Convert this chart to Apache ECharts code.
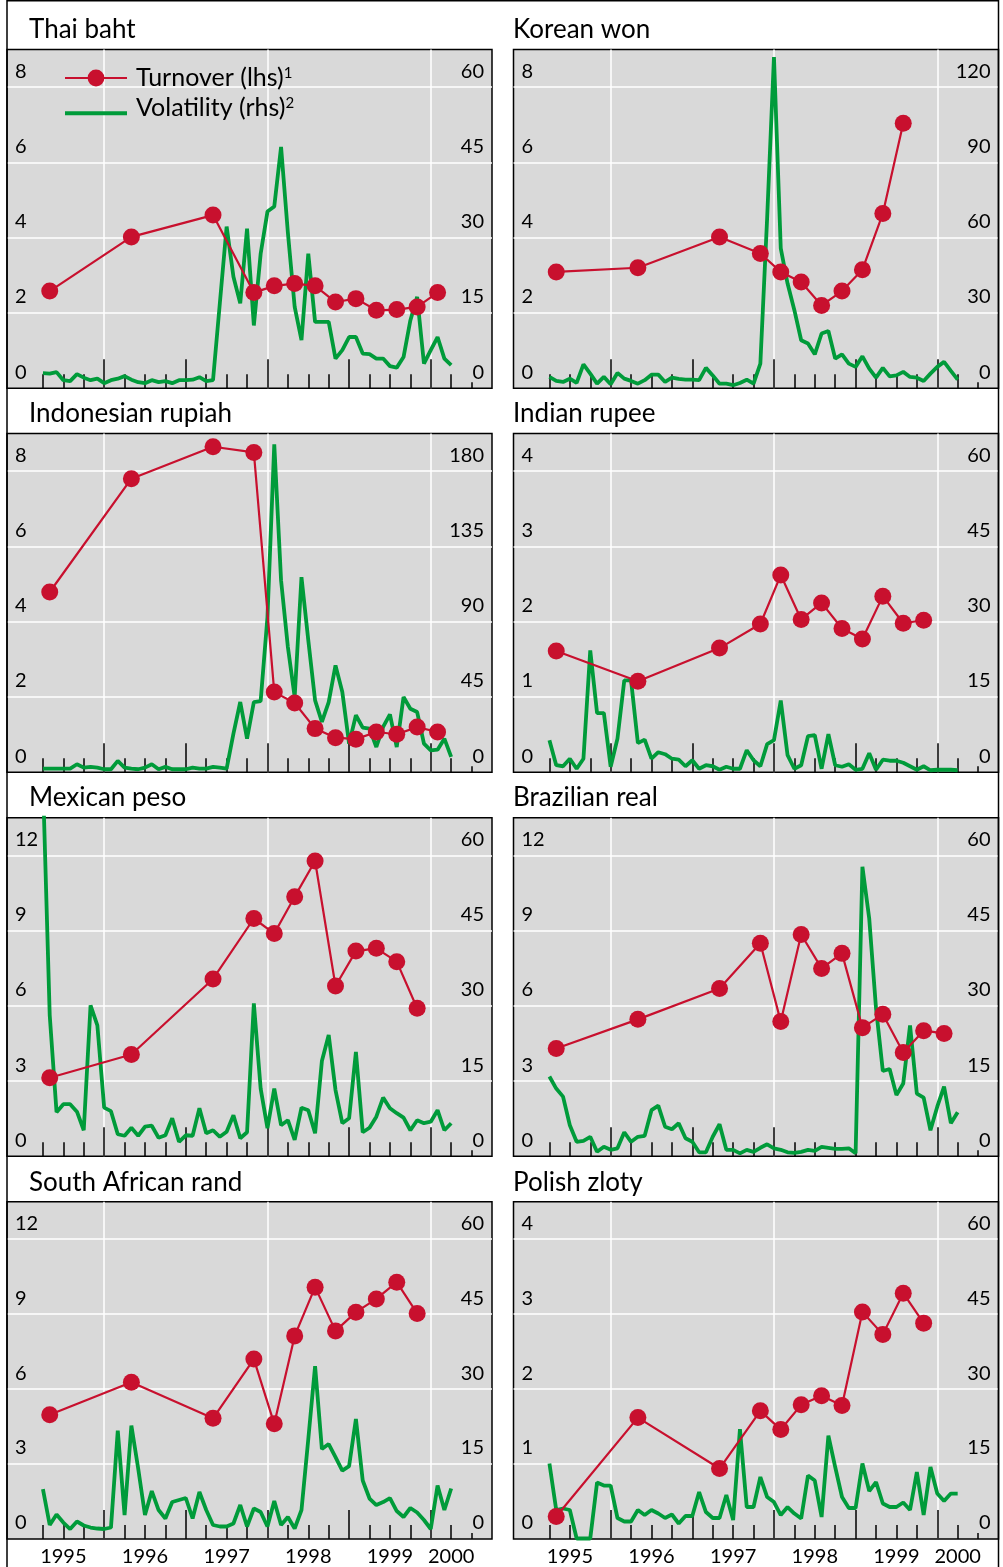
<!DOCTYPE html>
<html><head><meta charset="utf-8">
<script src="https://cdn.jsdelivr.net/npm/echarts@6/dist/echarts.min.js"></script>
<style>html,body{margin:0;padding:0;background:#fff}#c{width:1003px;height:1567px}</style>
</head><body><div id="c"></div><script>
// ---------- data ----------
const panelTitles = ['Thai baht','Korean won','Indonesian rupiah','Indian rupee','Mexican peso','Brazilian real','South African rand','Polish zloty'];
const lhsTop  = [8, 8, 8, 4, 12, 12, 12, 4];
const lhsStep = [2, 2, 2, 1, 3, 3, 3, 1];
const rhsTop  = [60, 120, 180, 60, 60, 60, 60, 60];
const rhsStep = [15, 30, 45, 15, 15, 15, 15, 15];

const seriesNames = ['Turnover (lhs)', 'Volatility (rhs)'];
const seriesNotes = ['1', '2'];

const volStart = '1995-04'; // monthly volatility series start
const turnoverDates = ['1995-05','1996-05','1997-05','1997-11','1998-02','1998-05','1998-08','1998-11','1999-02','1999-05','1999-08','1999-11','2000-02'];

const thaiTO  = [2.58,4.02,4.60,2.54,2.72,2.78,2.72,2.29,2.38,2.07,2.09,2.16,2.54];
const koreaTO = [3.09,3.20,4.02,3.58,3.09,2.82,2.20,2.58,3.15,4.64,7.04];
const indoTO  = [4.79,7.80,8.65,8.50,2.13,1.84,1.16,0.92,0.88,1.07,1.01,1.20,1.07];
const indiaTO = [1.61,1.21,1.65,1.97,2.62,2.03,2.25,1.91,1.77,2.34,1.98,2.02];
const mexTO   = [3.13,4.06,7.07,9.48,8.88,10.35,11.77,6.79,8.18,8.29,7.76,5.90];
const brTO    = [4.30,5.46,6.69,8.49,5.37,8.84,7.49,8.09,5.13,5.66,4.14,5.01,4.90];
const saTO    = [4.97,6.27,4.83,7.20,4.61,8.13,10.08,8.33,9.08,9.61,10.28,9.03];
const plTO    = [0.30,1.62,0.94,1.71,1.46,1.79,1.91,1.78,3.03,2.73,3.28,2.88];

const thaiVol  = [3.0,2.9,3.2,1.6,1.4,2.8,2.1,1.6,1.9,1.0, 1.6,1.9,2.4,1.7,1.2,1.0,1.6,1.2,1.4,1.0, 1.6,1.6,1.7,2.2,1.4,1.6,16.9,32.2,22.2,16.9, 31.8,12.5,26.8,35.2,36.2,48.1,31.0,16.2,9.6,26.8, 13.2,13.2,13.2,5.9,7.6,10.2,10.2,6.9,6.8,5.9, 5.9,4.4,4.1,6.2,13.5,18.2,4.9,7.6,10.2,5.9, 4.6];
const koreaVol = [4.5,2.9,2.5,3.8,2.1,9.5,5.8,1.8,4.5,1.6, 6.1,3.8,2.9,1.8,3.2,5.4,5.4,2.5,4.2,3.7, 3.4,3.4,3.2,8.1,5.1,1.8,1.8,1.2,2.1,3.4, 1.8,9.8,68.0,132.0,55.7,41.7,31.1,19.1,17.8,13.5, 21.8,22.8,11.8,13.5,9.8,8.5,12.7,7.8,4.2,8.1, 4.7,5.1,6.5,4.5,4.2,2.9,5.8,8.5,10.5,6.9, 3.4];
const indoVol  = [2.2,2.2,2.2,2.2,2.2,4.8,2.8,3.2,2.8,1.8, 1.8,6.8,2.8,2.2,1.8,2.8,4.8,1.8,3.2,1.8, 1.8,1.8,2.8,2.2,2.2,3.2,2.8,2.2,23.1,42.0, 20.1,42.0,42.6,92.8,196.0,114.7,74.9,45.0,116.7,78.9, 43.0,30.1,42.0,63.9,48.0,17.1,34.1,26.7,26.1,15.1, 27.1,34.6,15.1,45.0,38.0,36.0,17.1,13.1,13.5,20.1, 9.2];
const indiaVol = [6.4,1.4,1.2,2.7,0.7,2.7,24.3,11.8,11.8,1.1, 6.7,18.3,18.3,5.8,6.5,2.7,4.0,3.6,2.7,2.5, 1.2,2.4,0.7,1.4,1.2,0.5,1.1,0.7,0.7,4.4, 2.4,1.2,5.6,6.4,14.3,3.4,0.7,1.4,7.2,7.4, 0.7,7.6,1.4,1.1,1.6,0.5,0.7,3.8,0.5,2.5, 2.3,2.3,1.9,1.2,0.5,1.2,0.4,0.5,0.5,0.5, 0.4];
const mexVol   = [75.0,28.1,8.8,10.4,10.4,8.9,5.2,30.1,26.1,9.7, 9.0,4.4,4.1,5.7,4.1,5.9,6.1,3.7,4.2,7.6, 2.9,4.2,4.1,9.6,4.6,5.2,3.9,4.9,8.2,3.6, 4.8,30.5,13.5,5.6,13.5,6.2,7.2,3.3,9.7,9.2, 4.6,19.0,24.2,13.2,6.6,7.6,20.8,4.8,5.7,7.9, 11.7,9.6,8.6,7.7,5.2,7.2,6.6,6.9,9.2,5.2, 6.6];
const brVol    = [15.9,13.5,11.9,6.2,2.9,3.1,3.9,0.9,1.9,1.3, 1.6,4.8,2.9,3.9,4.1,9.2,10.1,5.9,5.4,6.6, 3.6,2.9,0.8,0.8,3.9,6.4,1.3,1.3,0.6,1.3, 0.9,1.7,2.4,1.6,1.3,0.8,0.7,0.9,1.3,1.1, 1.9,1.7,1.5,1.5,1.6,0.6,57.7,47.4,29.5,17.0, 17.4,12.2,14.5,26.1,12.5,11.7,5.2,9.9,13.9,6.6, 8.8];
const saVol    = [10.0,2.8,4.9,3.3,2.0,3.5,2.7,2.3,2.1,2.0, 2.3,21.7,4.8,22.7,14.1,4.8,9.6,5.8,4.1,7.4, 7.8,8.2,4.1,9.4,5.8,2.8,2.5,2.5,3.1,6.8, 2.5,6.1,5.4,2.5,7.6,2.8,4.4,2.1,5.8,20.0, 34.6,18.0,19.0,16.4,13.7,14.6,24.0,11.7,8.1,6.8, 7.4,8.2,5.6,4.4,6.2,5.3,3.8,2.0,10.7,5.8, 10.1];
const plVol    = [15.1,5.8,6.1,5.8,0.1,0.1,0.1,11.3,10.7,10.7, 4.2,3.5,3.5,5.8,4.8,5.8,5.1,4.2,4.9,3.1, 4.6,4.6,9.4,5.4,4.2,4.2,8.8,3.8,22.0,6.4, 6.4,12.4,8.4,7.4,4.8,6.4,5.1,4.1,12.7,11.7, 4.4,20.7,14.4,8.4,6.2,6.2,15.1,9.6,11.4,7.1, 6.4,6.4,7.3,5.8,13.4,4.8,14.4,9.1,7.6,9.1, 9.1];

const turnoverSets = [thaiTO, koreaTO, indoTO, indiaTO, mexTO, brTO, saTO, plTO];
const volSets = [thaiVol, koreaVol, indoVol, indiaVol, mexVol, brVol, saVol, plVol];

// x axis: years
const xMin = 1994.81, xMax = 2000.75;
const gridYears = [1996, 1998, 2000];
const yearTicks = [1996, 1997, 1998, 1999, 2000];
const quarterTicks = [1995.25,1995.5,1995.75,1996.25,1996.5,1996.75,1997.25,1997.5,1997.75,1998.25,1998.5,1998.75,1999.25,1999.5,1999.75,2000.25];
const endTick = [2000.5];
const yearLabels = ['1995','1996','1997','1998','1999','2000'];
const yearLabelPos = [1995.5, 1996.5, 1997.5, 1998.5, 1999.5, 2000.25];

// ---------- build ----------
const RED = '#C8102E', GREEN = '#009B3A', FONT = 'Lato';
const ym = s => { const [y, m] = s.split('-').map(Number); return y + (m - 1) / 12; };
const volX0 = ym(volStart);
const TO_NAME = seriesNames[0] + '¹', VOL_NAME = seriesNames[1] + '²';

const grids = [], xAxes = [], yAxes = [], series = [], titles = [];
for (let p = 0; p < 8; p++) {
  const r = Math.floor(p / 2), c = p % 2;
  const top = 49.5 + r * 384.07;
  const left = c ? 513.5 : 7;
  grids.push({left, top, width: 485, height: 338.7, show: true, backgroundColor: '#D9D9D9', borderColor: '#000', borderWidth: 1.5});
  titles.push({text: panelTitles[p], left: c ? 513 : 29, top: top - 32.6, padding: 0,
    textStyle: {fontSize: 26, fontFamily: FONT, fontWeight: 'normal', color: '#000', lineHeight: 26}});
  const bottomRow = r === 3;
  const tickAxis = (vals, len, labels) => ({
    gridIndex: p, type: 'value', min: xMin, max: xMax, position: 'bottom',
    axisLine: {show: false}, splitLine: {show: false},
    axisTick: {show: true, inside: true, length: len, customValues: vals, lineStyle: {color: '#000', width: 1.5}},
    axisLabel: labels ? {show: true, customValues: yearLabelPos, margin: 8, fontSize: 20, fontFamily: FONT, color: '#000',
      formatter: v => { const i = yearLabelPos.findIndex(q => Math.abs(q - v) < 1e-6); return i >= 0 ? yearLabels[i] : ''; }} : {show: false}
  });
  xAxes.push({gridIndex: p, type: 'value', min: xMin, max: xMax, position: 'bottom',
    axisLine: {show: false}, axisLabel: {show: false},
    axisTick: {show: false, customValues: gridYears},
    splitLine: {show: true, lineStyle: {color: '#fff', width: 1.5}}});
  xAxes.push(tickAxis(yearTicks, 29, bottomRow));
  xAxes.push(tickAxis(quarterTicks, 14, false));
  xAxes.push(tickAxis(endTick, 6, false));
  const lab = (tp, side) => ({inside: true, margin: 8, verticalAlign: 'bottom', padding: [0, 0, 6, 0],
    fontSize: 20, fontFamily: FONT, color: '#000', showMaxLabel: false, align: side,
    formatter: v => v > tp + 1e-9 ? '' : String(v)});
  yAxes.push({gridIndex: p, type: 'value', position: 'left', min: 0, max: lhsTop[p] * 1.125, interval: lhsStep[p],
    axisLine: {show: false}, axisTick: {show: false}, axisLabel: lab(lhsTop[p], 'left'),
    splitLine: {show: true, showMinLine: false, showMaxLine: false, lineStyle: {color: '#fff', width: 1.5}}});
  yAxes.push({gridIndex: p, type: 'value', position: 'right', min: 0, max: rhsTop[p] * 1.125, interval: rhsStep[p],
    axisLine: {show: false}, axisTick: {show: false}, axisLabel: lab(rhsTop[p], 'right'),
    splitLine: {show: false}});
  series.push({type: 'line', name: VOL_NAME, xAxisIndex: 4 * p, yAxisIndex: 2 * p + 1,
    data: volSets[p].map((v, i) => [volX0 + i / 12, v]), symbol: 'none', showSymbol: false,
    lineStyle: {color: GREEN, width: 3.8}, itemStyle: {color: GREEN}, z: 2, clip: true});
  series.push({type: 'line', name: TO_NAME, xAxisIndex: 4 * p, yAxisIndex: 2 * p,
    data: turnoverSets[p].map((v, i) => [ym(turnoverDates[i]), v]), symbol: 'circle', symbolSize: 17,
    lineStyle: {color: RED, width: 2.2}, itemStyle: {color: RED}, z: 3});
}

const chart = echarts.init(document.getElementById('c'), null, {renderer: 'canvas'});
chart.setOption({
  animation: false,
  backgroundColor: '#fff',
  title: titles,
  legend: {left: 63, top: 65.5, padding: 0, orient: 'vertical', itemWidth: 62, itemHeight: 21, itemGap: 5, selectedMode: false,
    data: [
      {name: TO_NAME, lineStyle: {color: RED, width: 2.2}},
      {name: VOL_NAME, itemStyle: {color: 'rgba(0,0,0,0)', borderWidth: 0, opacity: 0},
       lineStyle: {color: GREEN, width: 4}, textStyle: {padding: [0, 0, 10.6, 0]}}
    ],
    formatter: name => {
      const i = name === TO_NAME ? 0 : 1;
      return '{a|' + seriesNames[i] + '}{s|' + seriesNotes[i] + '}';
    },
    textStyle: {padding: [0, 0, 0, 0], color: '#000',
      rich: {a: {fontSize: 25, lineHeight: 25, fontFamily: FONT, color: '#000', padding: [0, 0, 0, 4]},
             s: {fontSize: 15, lineHeight: 15, fontFamily: FONT, color: '#000', verticalAlign: 'top'}}}},
  grid: grids, xAxis: xAxes, yAxis: yAxes, series,
  graphic: [{type: 'rect', silent: true, z: 100, shape: {x: 7, y: 0.75, width: 991.5, height: 1600},
    style: {fill: 'none', stroke: '#000', lineWidth: 1.5}}]
});
</script></body></html>
